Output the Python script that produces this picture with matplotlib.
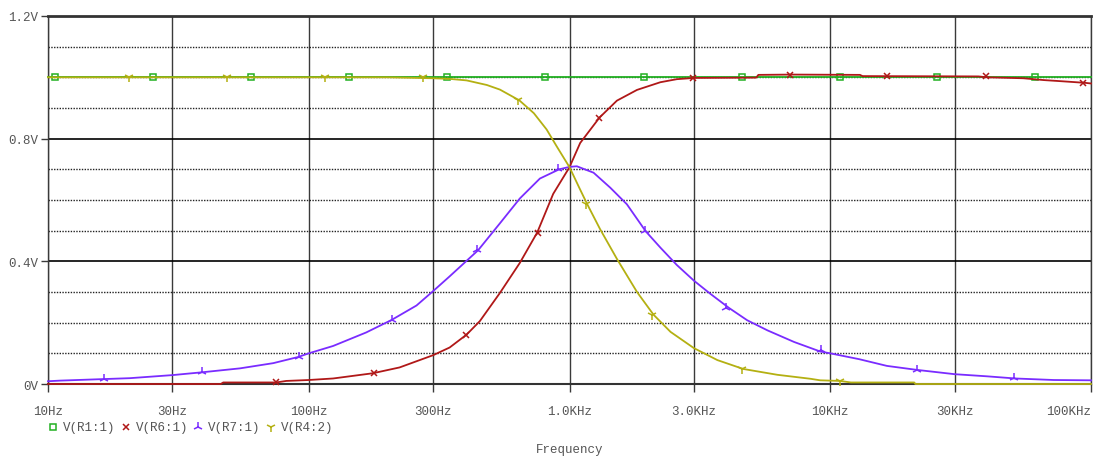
import matplotlib
matplotlib.use("Agg")
import matplotlib.pyplot as plt
from matplotlib.lines import Line2D
from matplotlib.ticker import NullLocator, FixedLocator

# ---------------- data ----------------
x_ticks = [10, 30, 100, 300, 1000, 3000, 10000, 30000, 100000]
x_tick_labels = ["10Hz", "30Hz", "100Hz", "300Hz", "1.0KHz", "3.0KHz", "10KHz", "30KHz", "100KHz"]
y_major = [0.0, 0.4, 0.8, 1.2]
y_major_labels = ["0V", "0.4V", "0.8V", "1.2V"]
y_minor = [0.1, 0.2, 0.3, 0.5, 0.6, 0.7, 0.9, 1.0, 1.1]

series_names = ["V(R1:1)", "V(R6:1)", "V(R7:1)", "V(R4:2)"]

r1_f = [10, 100000]
r1_v = [1.0, 1.0]

r6_f = [10, 46, 47, 75, 82, 100, 124, 176, 223, 300, 347, 403, 453, 541, 645, 752,
        866, 1000, 1099, 1304, 1520, 1815, 2230, 2580, 3000, 5200, 5300, 7100, 13000,
        13300, 37000, 40000, 55000, 66000, 78000, 95000, 100000]
r6_v = [0.0, 0.0, 0.005, 0.005, 0.010, 0.013, 0.018, 0.035, 0.054, 0.094, 0.119, 0.161,
        0.205, 0.297, 0.395, 0.494, 0.62, 0.707, 0.786, 0.869, 0.924, 0.959, 0.984, 0.994,
        0.998, 0.999, 1.008, 1.009, 1.008, 1.004, 1.003, 1.0, 0.997, 0.991, 0.987, 0.982, 0.98]

r7_f = [10, 11.1, 16.3, 20.6, 30, 38.8, 54.5, 73.1, 91, 100, 124, 166, 208, 259, 300, 347,
        446, 541, 645, 770, 913, 1000, 1067, 1237, 1434, 1660, 1960, 2230, 2580, 3000, 3470,
        4090, 4800, 5740, 7270, 9150, 10000, 12900, 16500, 21500, 30000, 40000, 51300,
        72000, 100000]
r7_v = [0.009, 0.011, 0.016, 0.019, 0.029, 0.038, 0.051, 0.068, 0.088, 0.10, 0.124, 0.168,
        0.209, 0.256, 0.303, 0.351, 0.436, 0.524, 0.605, 0.67, 0.70, 0.708, 0.71, 0.689,
        0.64, 0.586, 0.498, 0.445, 0.388, 0.337, 0.294, 0.248, 0.208, 0.175, 0.137, 0.106,
        0.10, 0.081, 0.059, 0.046, 0.032, 0.025, 0.018, 0.013, 0.012]

r4_f = [10, 200, 300, 347, 403, 482, 541, 642, 730, 817, 893, 1000, 1090, 1170, 1310, 1520,
        1815, 2100, 2440, 3000, 3690, 4640, 6270, 8400, 9150, 10900, 12000, 21000, 21200,
        100000]
r4_v = [1.0, 1.0, 0.997, 0.995, 0.99, 0.975, 0.96, 0.925, 0.883, 0.83, 0.775, 0.707, 0.64,
        0.586, 0.505, 0.408, 0.30, 0.226, 0.17, 0.117, 0.078, 0.049, 0.030, 0.017, 0.012,
        0.010, 0.005, 0.005, 0.0, 0.0]

# marker positions (PSpice symbols)
r1_mk_f = [10.6, 25.2, 59.9, 143, 340, 806, 1930, 4600, 10900, 25600, 61100]
r1_mk_v = [1.0] * 11
r6_mk_f = [74.8, 178, 401, 754, 1300, 2970, 6990, 16500, 39400, 93000]
r6_mk_v = [0.005, 0.035, 0.161, 0.494, 0.869, 0.998, 1.009, 1.004, 1.003, 0.982]
r7_mk_f = [16.4, 38.9, 91.4, 208, 443, 906, 1940, 4000, 9200, 21500, 50500]
r7_mk_v = [0.016, 0.038, 0.088, 0.209, 0.436, 0.70, 0.498, 0.248, 0.112, 0.046, 0.018]
r4_mk_f = [20.4, 48.5, 115, 275, 636, 1160, 2080, 4600, 10900]
r4_mk_v = [1.0, 1.0, 1.0, 1.0, 0.925, 0.586, 0.226, 0.049, 0.010]

# ---------------- style ----------------
FONT = "Liberation Mono"
TXT = "#555555"
FS = 9
colors = ["#22b022", "#b01818", "#7a2cff", "#b4b012"]
markers = ["s", "x", "2", "1"]
msizes = [4.5, 5, 7, 7]

fig = plt.figure(figsize=(10.95, 4.6), dpi=100)
ax = fig.add_axes([48 / 1095, 1 - 385 / 460, (1091 - 48) / 1095, (385 - 17) / 460])
ax.set_xscale("log")
ax.set_xlim(10, 100000)
ax.set_ylim(0, 1.2)

# grid
for xv in x_ticks:
    ax.axvline(xv, color="#3a3a3a", lw=1.0, zorder=1)
for yv in y_major:
    ax.axhline(yv, color="black", lw=1.2, zorder=1)
for yv in y_minor:
    ax.axhline(yv, color="#222222", lw=1.0, ls=(0, (1, 1)), zorder=1)

data = [(r1_f, r1_v, r1_mk_f, r1_mk_v), (r6_f, r6_v, r6_mk_f, r6_mk_v),
        (r7_f, r7_v, r7_mk_f, r7_mk_v), (r4_f, r4_v, r4_mk_f, r4_mk_v)]
for i, (f, v, mf, mv) in enumerate(data):
    ax.plot(f, v, color=colors[i], lw=1.3, zorder=3 + i, clip_on=False)
    ax.plot(mf, mv, ls="none", marker=markers[i], ms=msizes[i], mew=1.1,
            mfc="none", mec=colors[i], color=colors[i], zorder=3 + i, clip_on=False)

ax.xaxis.set_major_locator(FixedLocator(x_ticks))
ax.xaxis.set_minor_locator(NullLocator())
ax.set_xticklabels(x_tick_labels)
ax.yaxis.set_major_locator(FixedLocator(y_major))
ax.yaxis.set_minor_locator(NullLocator())
ax.set_yticklabels(y_major_labels)
ax.tick_params(axis="x", length=6, width=1, color="#3a3a3a", pad=9, labelsize=FS,
               labelcolor=TXT)
ax.tick_params(axis="y", length=5, width=1, color="#3a3a3a", pad=2, labelsize=FS,
               labelcolor=TXT)
for lab in ax.get_xticklabels() + ax.get_yticklabels():
    lab.set_fontfamily(FONT)
ax.get_xticklabels()[-1].set_horizontalalignment("right")

for s in ["left", "right"]:
    ax.spines[s].set_color("#3a3a3a")
    ax.spines[s].set_linewidth(1.0)
ax.spines["top"].set_color("#333333")
ax.spines["top"].set_linewidth(2.0)
ax.spines["bottom"].set_color("#333333")
ax.spines["bottom"].set_linewidth(1.5)

# legend (manual, PSpice-like)
leg_y = 1 - 428 / 460
mk_x = [53, 126, 198, 271]
for i, name in enumerate(series_names):
    fig.add_artist(Line2D([mk_x[i] / 1095], [leg_y], transform=fig.transFigure,
                          marker=markers[i], ms=msizes[i] - 0.5, mew=1.1, mfc="none",
                          mec=colors[i], ls="none"))
    fig.text((mk_x[i] + 10) / 1095, leg_y, name, family=FONT, size=FS, color=TXT,
             ha="left", va="center")

fig.text(570 / 1095, 1 - 450 / 460, "Frequency", family=FONT, size=FS, color=TXT,
         ha="center", va="center")

fig.savefig("out.png", dpi=100)
